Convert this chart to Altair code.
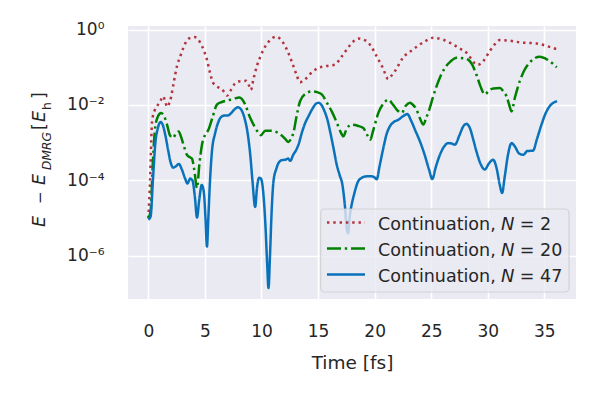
import altair as alt
import pandas as pd

# ---- data (time in fs, log10 of E - E_DMRG in E_h) ----
t_n2 = [0.0, 0.15, 0.33, 0.55, 0.77, 1.05, 1.3, 1.5, 1.65, 1.85, 2.0, 2.24, 2.53, 2.82, 3.1, 3.41,
        3.7, 4.06, 4.35, 4.59, 4.9, 5.18, 5.45, 5.7, 6.0, 6.35, 6.7, 6.95, 7.2, 7.6, 7.97, 8.3,
        8.65, 8.85, 9.06, 9.3, 9.59, 9.9, 10.18, 10.7, 11.3, 11.8, 12.24, 12.55, 12.82, 13.1,
        13.41, 13.7, 14.0, 14.5, 15.03, 15.7, 16.5, 17.0, 17.54, 18.0, 18.56, 19.3, 19.7, 20.18,
        20.7, 21.21, 21.5, 21.8, 22.5, 23.4, 24.45, 25.18, 26.06, 26.95, 27.5, 28.13, 28.6, 29.0,
        29.3, 29.6, 30.18, 30.6, 31.07, 32.0, 32.83, 34.3, 35.77, 36.1]
log_n2 = [-5.0, -4.0, -2.43, -2.15, -2.03, -1.9, -1.77, -1.92, -2.05, -1.95, -1.8, -1.41, -0.97,
          -0.71, -0.48, -0.29, -0.22, -0.2, -0.25, -0.35, -0.55, -0.8, -1.15, -1.4, -1.5, -1.56,
          -1.65, -1.75, -1.65, -1.45, -1.38, -1.37, -1.36, -1.45, -1.6, -1.3, -0.97, -0.72, -0.53,
          -0.3, -0.19, -0.3, -0.53, -0.75, -0.97, -1.2, -1.4, -1.35, -1.28, -1.12, -1.02, -0.97,
          -0.93, -0.75, -0.53, -0.35, -0.24, -0.31, -0.45, -0.71, -1.0, -1.31, -1.22, -1.1, -0.75,
          -0.53, -0.31, -0.22, -0.27, -0.4, -0.5, -0.62, -0.8, -0.93, -0.92, -0.84, -0.57, -0.4,
          -0.28, -0.3, -0.34, -0.37, -0.49, -0.52]

t_n20 = [0.0, 0.2, 0.4, 0.6, 0.85, 1.12, 1.4, 1.65, 1.9, 2.18, 2.45, 2.68, 2.9, 3.15, 3.41, 3.65,
         3.85, 4.05, 4.3, 4.5, 4.74, 5.0, 5.32, 5.7, 6.06, 6.5, 7.0, 7.5, 8.06, 8.5, 9.0, 9.44,
         9.74, 9.95, 10.33, 10.8, 11.2, 11.8, 12.1, 12.38, 12.6, 12.82, 13.1, 13.41, 13.9, 14.45,
         14.9, 15.33, 15.8, 16.21, 16.7, 17.0, 17.24, 17.5, 17.98, 18.5, 19.0, 19.35, 19.62,
         19.85, 20.33, 20.8, 21.21, 21.6, 21.95, 22.4, 22.75, 23.12, 23.4, 23.7, 24.0, 24.3,
         24.55, 24.83, 25.15, 25.48, 25.85, 26.2, 26.7, 27.25, 27.8, 28.27, 28.6, 29.0, 29.35,
         29.74, 30.1, 30.48, 31.07, 31.4, 31.66, 31.9, 32.1, 32.4, 32.83, 33.2, 33.7, 34.1, 34.6,
         35.1, 35.48, 35.8, 36.1]
log_n20 = [-5.0, -4.8, -3.5, -2.6, -2.3, -2.21, -2.3, -2.52, -2.8, -2.87, -2.75, -2.7, -2.85,
           -3.1, -3.32, -3.38, -3.42, -3.7, -4.2, -3.6, -3.05, -2.8, -2.65, -2.3, -1.99, -1.92,
           -1.88, -1.84, -1.8, -1.95, -2.34, -2.6, -2.74, -2.8, -2.68, -2.68, -2.7, -2.81, -2.9,
           -2.98, -2.9, -2.74, -2.3, -1.9, -1.7, -1.64, -1.66, -1.72, -1.95, -2.17, -2.5, -2.72,
           -2.83, -2.65, -2.52, -2.55, -2.61, -2.8, -2.92, -2.7, -2.21, -1.95, -1.86, -1.98, -2.12,
           -2.21, -2.02, -1.94, -2.0, -2.12, -2.35, -2.52, -2.35, -2.12, -1.8, -1.5, -1.22, -1.02,
           -0.85, -0.75, -0.76, -0.8, -0.92, -1.2, -1.5, -1.72, -1.62, -1.56, -1.55, -1.65, -1.77,
           -2.0, -2.17, -1.8, -1.37, -1.1, -0.88, -0.77, -0.72, -0.77, -0.84, -0.92, -1.0]

t_n47 = [0.0, 0.2, 0.4, 0.62, 0.85, 1.08, 1.3, 1.5, 1.75, 1.95, 2.2, 2.45, 2.7, 2.95, 3.25, 3.45,
         3.7, 3.9, 4.1, 4.3, 4.5, 4.72, 4.9, 5.05, 5.18, 5.3, 5.45, 5.62, 5.9, 6.15, 6.4, 6.7,
         7.0, 7.3, 7.6, 7.92, 8.2, 8.5, 8.75, 9.0, 9.2, 9.44, 9.6, 9.78, 9.95, 10.15, 10.35,
         10.5, 10.62, 10.75, 10.9, 11.06, 11.3, 11.5, 11.8, 12.1, 12.35, 12.55, 12.8, 13.05,
         13.27, 13.6, 13.9, 14.15, 14.5, 14.8, 15.03, 15.3, 15.55, 15.8, 16.1, 16.4, 16.65,
         16.9, 17.15, 17.35, 17.55, 17.65, 17.8, 18.0, 18.2, 18.5, 18.86, 19.3, 19.74, 20.0,
         20.18, 20.45, 20.77, 21.05, 21.36, 21.7, 22.1, 22.5, 22.89, 23.2, 23.6, 24.0, 24.4,
         24.8, 25.1, 25.4, 25.77, 26.1, 26.5, 26.8, 27.1, 27.5, 27.85, 28.13, 28.4, 28.75, 29.0,
         29.35, 29.74, 30.1, 30.48, 30.8, 31.05, 31.27, 31.5, 31.8, 32.1, 32.4, 32.75, 33.13,
         33.5, 34.0, 34.35, 34.75, 35.1, 35.48, 35.8, 36.13]
log_n47 = [-5.04, -4.95, -4.0, -3.0, -2.6, -2.45, -2.55, -2.8, -3.2, -3.5, -3.66, -3.62, -3.56,
           -3.7, -3.95, -4.08, -3.95, -4.0, -4.4, -4.98, -4.5, -4.12, -4.3, -5.0, -5.75, -5.0,
           -4.0, -3.23, -2.75, -2.48, -2.33, -2.28, -2.28, -2.22, -2.12, -2.06, -2.12, -2.35,
           -2.7, -3.3, -4.0, -4.7, -4.2, -3.93, -3.95, -4.3, -5.2, -6.2, -6.85, -6.0, -4.8, -4.02,
           -3.7, -3.54, -3.46, -3.45, -3.42, -3.48, -3.32, -3.2, -3.05, -2.7, -2.45, -2.3, -2.1,
           -1.97, -1.94, -2.0, -2.15, -2.36, -2.75, -3.2, -3.58, -3.85, -4.11, -4.6, -5.3, -5.4,
           -4.95, -4.6, -4.35, -4.05, -3.93, -3.89, -3.89, -3.92, -3.97, -3.6, -3.14, -2.78,
           -2.56, -2.45, -2.39, -2.3, -2.24, -2.4, -2.68, -2.96, -3.3, -3.7, -3.96, -3.65, -3.32,
           -3.12, -3.01, -3.02, -3.05, -2.8, -2.56, -2.5, -2.6, -2.95, -3.23, -3.55, -3.71, -3.55,
           -3.45, -3.7, -4.1, -4.33, -3.9, -3.3, -3.01, -3.1, -3.28, -3.32, -3.22, -3.21, -2.9,
           -2.52, -2.23, -2.03, -1.94, -1.9]

series_names = ["Continuation, 𝘕 = 2", "Continuation, 𝘕 = 20", "Continuation, 𝘕 = 47"]
series_colors = ["#b3333d", "#008000", "#0a72ba"]
series_dashes = [[2.4, 3.9], [14, 3.8, 2.4, 3.8], [1, 0]]
x_ticks = [0, 5, 10, 15, 20, 25, 30, 35]
y_ticks = [1e-6, 1e-4, 1e-2, 1]

rows = []
for name, ts, ls in zip(series_names, [t_n2, t_n20, t_n47], [log_n2, log_n20, log_n47]):
    for i, (t, l) in enumerate(zip(ts, ls)):
        rows.append({"series": name, "t": t, "err": 10 ** l, "order": i})
df = pd.DataFrame(rows)

FONT = "DejaVu Sans"
TXT = "#262626"

lines = alt.Chart(df).mark_line(strokeWidth=2.5, interpolate="monotone", strokeCap="butt", clip=True).encode(
    x=alt.X("t:Q", scale=alt.Scale(domain=[-1.8, 37.8], nice=False, zero=False),
            axis=alt.Axis(values=x_ticks, title="Time [fs]", format="d")),
    y=alt.Y("err:Q", scale=alt.Scale(type="log", domain=[10 ** -7.14, 10 ** 0.093], nice=False),
            axis=alt.Axis(values=y_ticks, title=None,
                          labelExpr="datum.value >= 0.5 ? '10⁰' : datum.value >= 0.005 ? '10⁻²' : datum.value >= 0.00005 ? '10⁻⁴' : '10⁻⁶'")),
    color=alt.Color("series:N", scale=alt.Scale(domain=series_names, range=series_colors), legend=None),
    strokeDash=alt.StrokeDash("series:N", scale=alt.Scale(domain=series_names, range=series_dashes), legend=None),
    order="order:Q",
)

one = pd.DataFrame({"a": [0]})

def piece(text, x, y, size, italic):
    kw = dict(text=text, angle=270, align="left", baseline="alphabetic", font=FONT,
              fontSize=size, color=TXT)
    if italic:
        kw["fontStyle"] = "italic"
    return alt.Chart(one).mark_text(**kw).encode(x=alt.value(x), y=alt.value(y))

title_parts = [
    piece("E", -83, 201, 17.5, True),
    piece("−", -83, 178, 15, False),
    piece("E", -83, 159, 17.5, True),
    piece("DMRG", -77, 144, 12.3, True),
    piece("[", -83, 104, 17.5, False),
    piece("E", -83, 96, 17.5, True),
    piece("h", -77, 84, 12.3, False),
    piece("]", -83, 73, 17.5, False),
]

# ---- legend (drawn by hand so the frame and spacing match) ----
legend_box = alt.Chart(one).mark_rect(
    fill="#eaeaf2", fillOpacity=0.8, stroke="#cccccc", strokeOpacity=0.8, strokeWidth=1.2,
    cornerRadius=4,
).encode(x=alt.value(192.7), x2=alt.value(441), y=alt.value(183), y2=alt.value(266))

legend_parts = [legend_box]
row_y = [196.6, 222.6, 248.4]
for name, col, dash, yy in zip(series_names, series_colors, series_dashes, row_y):
    legend_parts.append(
        alt.Chart(one).mark_rule(color=col, strokeDash=dash, strokeWidth=2.5, strokeCap="butt")
        .encode(x=alt.value(199), x2=alt.value(237), y=alt.value(yy))
    )
    legend_parts.append(
        alt.Chart(one).mark_text(text=name, align="left", baseline="alphabetic", font=FONT,
                                 fontSize=17.5, color=TXT)
        .encode(x=alt.value(250), y=alt.value(yy + 7.2))
    )

chart = alt.layer(lines, *legend_parts, *title_parts).properties(
    width=448, height=273,
    autosize=alt.AutoSizeParams(type="none"),
    padding={"left": 120, "top": 18, "right": 15, "bottom": 85},
    background="white",
).configure_view(
    fill="#eaeaf2", stroke=None,
).configure_axis(
    grid=True, gridColor="white", gridWidth=1.6, domain=False, ticks=False, tickSize=0,
    labelFont=FONT, labelFontSize=17, labelColor=TXT, labelPadding=24,
    titleFont=FONT, titleFontSize=18.5, titleColor=TXT, titleFontWeight="normal",
).configure_axisX(
    titlePadding=14,
)

chart.save("out.html", embed_options={"renderer": "svg", "actions": False})
